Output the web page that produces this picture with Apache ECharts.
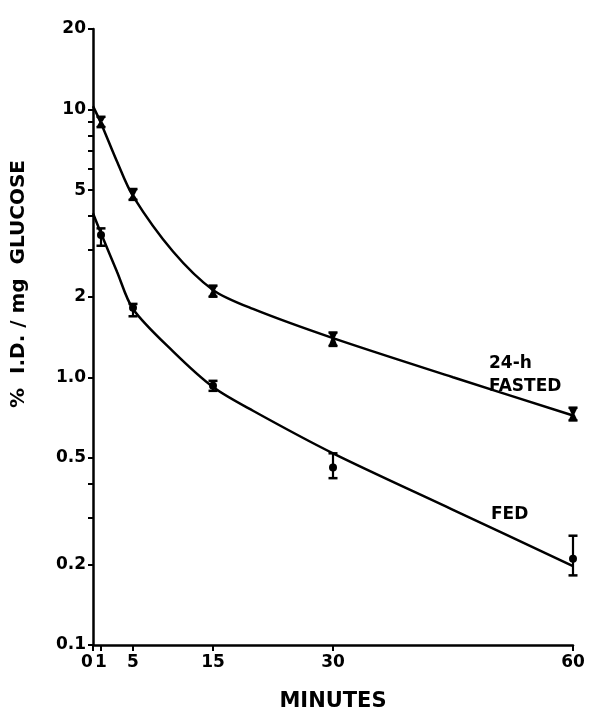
<!DOCTYPE html>
<html>
<head>
<meta charset="utf-8">
<script src="https://cdn.jsdelivr.net/npm/echarts@6/dist/echarts.min.js"></script>
<style>html,body{margin:0;padding:0;background:#fff}#c{width:589px;height:717px}</style>
</head>
<body>
<div id="c"></div>
<script>
// ---- data ----
// fitted curves, read at several times along each drawn line
const curveMinutes = [0, 1, 3, 5, 10, 15, 20, 30, 45, 60];
const fastedCurve = [10.3, 8.9, 6.4, 4.75, 2.95, 2.12, 1.8, 1.4, 1.0, 0.72];
const fedCurve = [4.1, 3.45, 2.48, 1.8, 1.25, 0.92, 0.75, 0.52, 0.32, 0.197];

// measured means with error bars
const pointMinutes = [1, 5, 15, 30, 60];
const fastedMean = [9.0, 4.8, 2.1, 1.4, 0.73];
const fastedHi = [9.4, 5.05, 2.2, 1.47, 0.77];
const fastedLo = [8.6, 4.6, 2.0, 1.31, 0.69];
const fedMean = [3.4, 1.82, 0.93, 0.46, 0.21];
const fedHi = [3.6, 1.88, 0.97, 0.52, 0.256];
const fedLo = [3.1, 1.69, 0.89, 0.42, 0.182];

const xTicks = [0, 1, 5, 15, 30, 60];
const yLabelValues = [0.1, 0.2, 0.5, 1, 2, 5, 10, 20];
const yLabelText = ['0.1', '0.2', '0.5', '1.0', '2', '5', '10', '20'];
const yTickValues = [0.1, 0.2, 0.3, 0.4, 0.5, 1, 2, 3, 4, 5, 6, 7, 8, 9, 10, 20];

const FONT = '"DejaVu Sans", "Liberation Sans", Arial, sans-serif';
const INK = '#000';

function zip(xs, ys) { return xs.map((x, i) => [x, ys[i]]); }
function errData(mean, hi, lo) { return pointMinutes.map((m, i) => [m, mean[i], hi[i], lo[i]]); }

function renderFasted(params, api) {
  const x = api.value(0);
  const pm = api.coord([x, api.value(1)]);
  const ph = api.coord([x, api.value(2)]);
  const pl = api.coord([x, api.value(3)]);
  const w = 4.5;
  return {
    type: 'group',
    children: [
      { type: 'polygon', shape: { points: [[ph[0] - w, ph[1]], [ph[0] + w, ph[1]], [pm[0] + 1.5, pm[1]], [pm[0] - 1.5, pm[1]]] }, style: { fill: INK } },
      { type: 'polygon', shape: { points: [[pl[0] - w, pl[1]], [pl[0] + w, pl[1]], [pm[0] + 1.5, pm[1]], [pm[0] - 1.5, pm[1]]] }, style: { fill: INK } },
      { type: 'line', shape: { x1: ph[0] - w, y1: ph[1], x2: ph[0] + w, y2: ph[1] }, style: { stroke: INK, lineWidth: 2.5 } },
      { type: 'line', shape: { x1: pl[0] - w, y1: pl[1], x2: pl[0] + w, y2: pl[1] }, style: { stroke: INK, lineWidth: 2.5 } }
    ]
  };
}

function renderFed(params, api) {
  const x = api.value(0);
  const pm = api.coord([x, api.value(1)]);
  const ph = api.coord([x, api.value(2)]);
  const pl = api.coord([x, api.value(3)]);
  const w = 4.5;
  return {
    type: 'group',
    children: [
      { type: 'line', shape: { x1: ph[0], y1: ph[1], x2: pl[0], y2: pl[1] }, style: { stroke: INK, lineWidth: 2.2 } },
      { type: 'line', shape: { x1: ph[0] - w, y1: ph[1], x2: ph[0] + w, y2: ph[1] }, style: { stroke: INK, lineWidth: 2.5 } },
      { type: 'line', shape: { x1: pl[0] - w, y1: pl[1], x2: pl[0] + w, y2: pl[1] }, style: { stroke: INK, lineWidth: 2.5 } },
      { type: 'circle', shape: { cx: pm[0], cy: pm[1], r: 4 }, style: { fill: INK } }
    ]
  };
}

const chart = echarts.init(document.getElementById('c'), null, { renderer: 'canvas' });
chart.setOption({
  animation: false,
  backgroundColor: '#fff',
  grid: { left: 93, right: 16, top: 29, bottom: 67, containLabel: false },
  xAxis: {
    type: 'value', min: 0, max: 60,
    name: 'MINUTES', nameLocation: 'middle', nameGap: 46,
    nameTextStyle: { color: INK, fontFamily: FONT, fontWeight: 'bold', fontSize: 21 },
    axisLine: { show: true, lineStyle: { color: INK, width: 2.5 } },
    axisTick: { show: true, customValues: xTicks, length: 6, lineStyle: { color: INK, width: 2 } },
    axisLabel: {
      customValues: xTicks, margin: 9, color: INK, fontFamily: FONT, fontWeight: 'bold', fontSize: 17,
      formatter: v => (Math.abs(v) < 1e-9 ? '{l|0}' : String(Math.round(v))),
      rich: { l: { padding: [0, 12, 0, 0], color: INK, fontFamily: FONT, fontWeight: 'bold', fontSize: 17 } }
    },
    splitLine: { show: false }
  },
  yAxis: {
    type: 'log', logBase: 10, min: 0.1, max: 20,
    axisLine: { show: true, lineStyle: { color: INK, width: 2.5 } },
    axisTick: { show: true, customValues: yTickValues, length: 5, lineStyle: { color: INK, width: 2 } },
    axisLabel: {
      customValues: yLabelValues, margin: 7, color: INK, fontFamily: FONT, fontWeight: 'bold', fontSize: 17,
      formatter: v => {
        let best = 0, bd = Infinity;
        yLabelValues.forEach((t, i) => { const d = Math.abs(Math.log10(t) - Math.log10(v)); if (d < bd) { bd = d; best = i; } });
        return yLabelText[best];
      }
    },
    splitLine: { show: false },
    minorTick: { show: false }
  },
  graphic: [
    { type: 'text', x: 19, y: 284, rotation: Math.PI / 2,
      style: { text: '%  I.D. / mg  GLUCOSE', fill: INK, font: 'bold 20px ' + FONT, textAlign: 'center', textVerticalAlign: 'middle' } },
    { type: 'text', x: 489, y: 352, style: { text: '24-h\nFASTED', fill: INK, font: 'bold 17px ' + FONT, lineHeight: 23 } },
    { type: 'text', x: 491, y: 506, style: { text: 'FED', fill: INK, font: 'bold 17px ' + FONT } }
  ],
  series: [
    { name: 'fastedCurve', type: 'line', data: zip(curveMinutes, fastedCurve), smooth: 0.3, showSymbol: false, symbol: 'none',
      lineStyle: { color: INK, width: 2.5 }, z: 2 },
    { name: 'fedCurve', type: 'line', data: zip(curveMinutes, fedCurve), smooth: 0.3, showSymbol: false, symbol: 'none',
      lineStyle: { color: INK, width: 2.5 }, z: 2 },
    { name: '24-h FASTED', type: 'custom', renderItem: renderFasted, data: errData(fastedMean, fastedHi, fastedLo), encode: { x: 0, y: [1, 2, 3] }, z: 3 },
    { name: 'FED', type: 'custom', renderItem: renderFed, data: errData(fedMean, fedHi, fedLo), encode: { x: 0, y: [1, 2, 3] }, z: 3 }
  ]
});
</script>
</body>
</html>
